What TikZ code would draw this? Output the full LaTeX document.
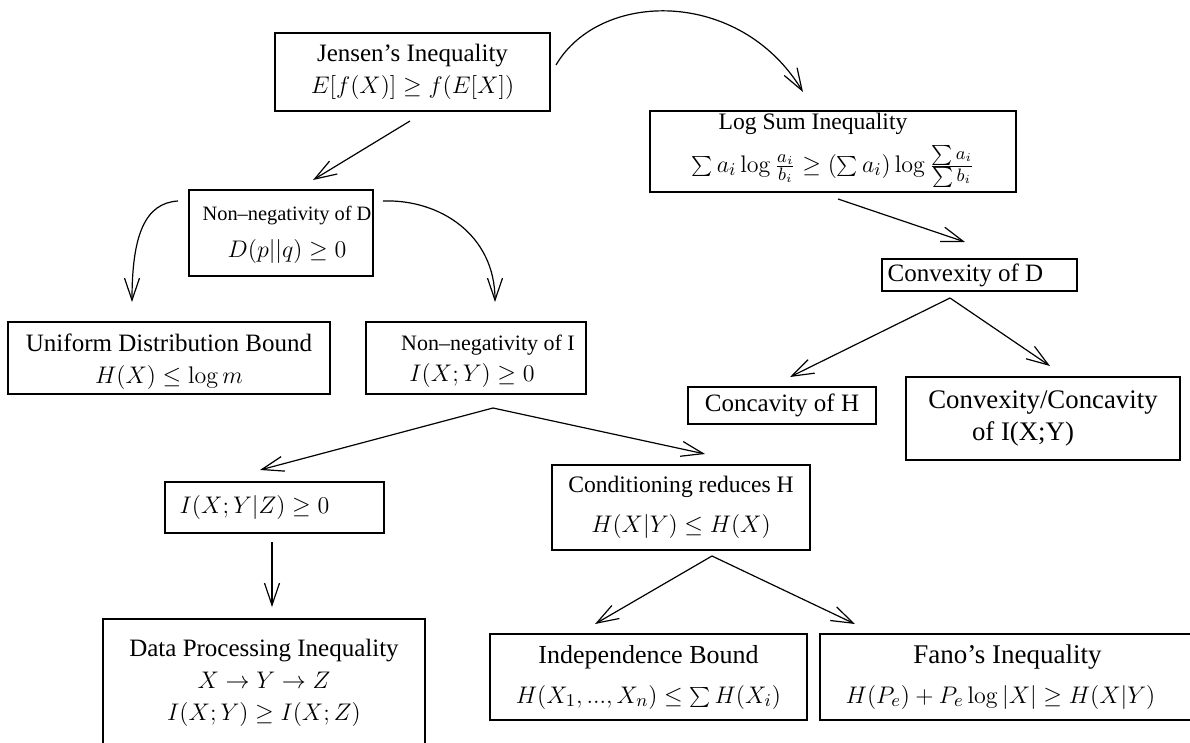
\documentclass[tikz,border=0pt]{standalone}
\usepackage[no-math]{fontspec}
\setmainfont{Liberation Serif}
\usetikzlibrary{arrows.meta}
\begin{document}
\begin{tikzpicture}[x=0.5pt,y=-0.5pt,
  box/.style={draw, line width=0.7pt, inner sep=0pt, align=center,
    font=\fontsize{12.5}{16}\selectfont},
  txt/.style={inner sep=0pt, align=center, font=\fontsize{12.5}{16}\selectfont},
  arr/.style={line width=0.6pt, -{Straight Barb[length=11pt,width=7.5pt,line width=0.6pt]}}]
\useasboundingbox (0,0) rectangle (1190,743);
% nodes
\node[box, minimum width=137.5pt, minimum height=39pt] (jensen) at (412.5,72)
  {Jensen's Inequality\\ $E[f(X)]\geq f(E[X])$};
\node[box, minimum width=183pt, minimum height=40.5pt] (logsum) at (833,151.5) {};
\node[txt] (logsumt) at (833,150.5)
  {{\fontsize{11.8}{14}\selectfont Log Sum Inequality}\hspace*{20pt}\\[4pt] $\sum a_i\log\frac{a_i}{b_i}\geq(\sum a_i)\log\frac{\sum a_i}{\sum b_i}$};
\node[box, minimum width=92pt, minimum height=43pt] (nnd) at (281,233) {};
\node[txt, font=\fontsize{10.2}{12}\selectfont] (nndt1) at (287,216) {Non--negativity of D};
\node[txt] (nndt2) at (287,252) {$D(p||q)\geq 0$};
\node[box, minimum width=97.5pt, minimum height=16pt] (convd) at (979.5,275)
  {Convexity of D\hspace*{14pt}};
\node[box, minimum width=161pt, minimum height=36pt] (unif) at (169,358) {};
\node[txt] (unift) at (169,362)
  {Uniform Distribution Bound\\ $H(X)\leq\log m$};
\node[box, minimum width=110pt, minimum height=36pt] (nni) at (476,358) {};
\node[txt, font=\fontsize{11}{14}\selectfont] (nnit1) at (488,345) {Non--negativity of I};
\node[txt] (nnit2) at (472,376) {$I(X;Y)\geq 0$};
\node[box, minimum width=94pt, minimum height=18.5pt] (conch) at (782,405.5)
  {Concavity of H};
\node[box, minimum width=137pt, minimum height=41.5pt] (convi) at (1043,418.5)
  {\fontsize{13.4}{16}\selectfont Convexity/Concavity\\ \fontsize{13.4}{16}\selectfont of I(X;Y)\hspace*{20pt}};
\node[box, minimum width=109.5pt, minimum height=25.5pt] (condz) at (274.5,507.5)
  {$I(X;Y|Z)\geq 0$\hspace*{20pt}};
\node[box, minimum width=129pt, minimum height=42.5pt] (condh) at (681,507.5)
  {{\fontsize{11.8}{14}\selectfont Conditioning reduces H}\\[4pt] $H(X|Y)\leq H(X)$};
\node[box, minimum width=161pt, minimum height=64pt] (dpi) at (264,683)
  {Data Processing Inequality\\ $X\to Y\to Z$\\ $I(X;Y)\geq I(X;Z)$};
\node[box, minimum width=158.5pt, minimum height=43pt] (indep) at (648.5,677)
  {{\fontsize{13}{15}\selectfont Independence Bound}\\[4pt] $H(X_1,...,X_n)\leq\sum H(X_i)$};
\node[box, minimum width=187.5pt, minimum height=43pt] (fano) at (1007.5,677)
  {{\fontsize{13.5}{15}\selectfont Fano's Inequality}\\[4pt] $H(P_e)+P_e\log|X|\geq H(X|Y)$\hspace*{7pt}};
% connector end points
\coordinate (jA) at (556,65);   \coordinate (lsT) at (803,92);
\coordinate (jB) at (410,121);  \coordinate (nndT) at (313,180);
\coordinate (lsB) at (838,199); \coordinate (cdT) at (965,242);
\coordinate (nndL) at (178,201); \coordinate (unT) at (132,302);
\coordinate (nndR) at (383,201); \coordinate (nniT) at (495,302);
\coordinate (cdB) at (950,298); \coordinate (chT) at (790,377); \coordinate (ciT) at (1050,366);
\coordinate (nniB) at (493,408); \coordinate (czT) at (260,470); \coordinate (chhT) at (705,454);
\coordinate (czB) at (272,542); \coordinate (dpiT) at (272,607);
\coordinate (chB) at (712,556); \coordinate (inT) at (595,624); \coordinate (faT) at (855,624);
% connectors
\draw[arr] (jA) .. controls (600,-10) and (740,-12) .. (lsT);
\draw[arr] (jB) -- (nndT);
\draw[arr] (lsB) -- (cdT);
\draw[arr] (nndL) .. controls (145,203) and (132,235) .. (unT);
\draw[arr] (nndR) .. controls (440,199) and (495,235) .. (nniT);
\draw[arr] (cdB) -- (chT);
\draw[arr] (cdB) -- (ciT);
\draw[arr] (nniB) -- (czT);
\draw[arr] (nniB) -- (chhT);
\draw[arr] (czB) -- (dpiT);
\draw[arr] (chB) -- (inT);
\draw[arr] (chB) -- (faT);
\end{tikzpicture}
\end{document}
